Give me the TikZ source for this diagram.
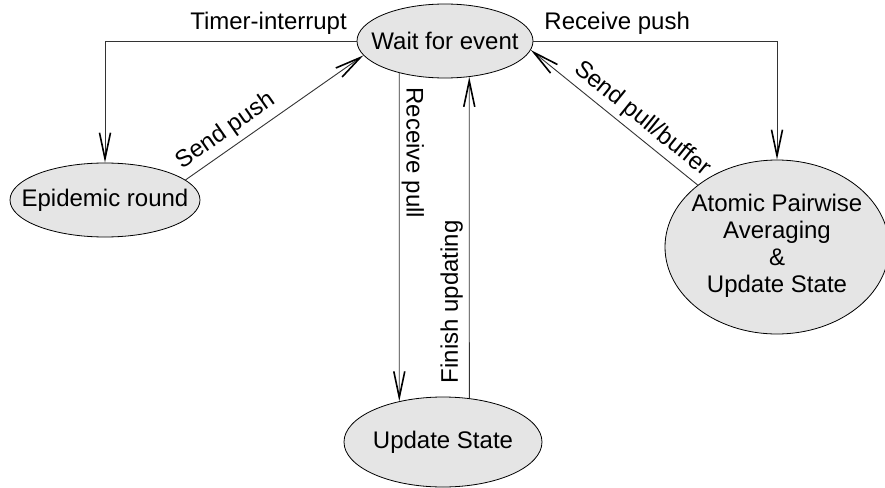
\documentclass[tikz,border=0pt]{standalone}
\usepackage{fontspec}
\setmainfont{Liberation Sans}
\usetikzlibrary{arrows.meta,shapes.geometric}
\begin{document}
\begin{tikzpicture}[x=1pt, y=-1pt,
  state/.style={ellipse, draw=black, line width=0.8pt, fill=black!10,
    inner sep=0pt, font=\fontsize{24}{27}\selectfont},
  conn/.style={draw=black!80, line width=0.9pt,
    -{Straight Barb[length=26pt,width=11pt,line width=1.6pt,color=black]}},
  lbl/.style={font=\fontsize{24}{27}\selectfont, inner sep=0pt, text=black}]
\useasboundingbox (0,0) rectangle (885,487);

% states
\node[state, minimum width=176pt, minimum height=74pt] (wait) at (445,41)
  {\makebox[0pt]{Wait for event}};
\node[state, minimum width=190pt, minimum height=74pt] (epi) at (105,200)
  {\makebox[0pt]{Epidemic round}};
\node[state, minimum width=198pt, minimum height=90pt] (upd) at (443,442)
  {\makebox[0pt]{Update State}};
\node[state, minimum width=224pt, minimum height=174pt] (atom) at (777,247)
  {\makebox[0pt]{\begin{tabular}{@{}c@{}}Atomic Pairwise\\Averaging\\\&\\Update State\end{tabular}}};

% transitions
\draw[conn] (wait.west) -| node[lbl, pos=0.175, anchor=south, inner ysep=6pt] {Timer-interrupt} (epi.north);
\draw[conn] (wait.east) -| node[lbl, pos=0.172, anchor=south, inner ysep=6pt] {Receive push} (atom.north);
\draw[conn] (epi.14) -- node[lbl, sloped, pos=0.28, anchor=south, inner ysep=5.4pt] {Send push} (wait.190);
\draw[conn] (atom.142) -- node[lbl, sloped, pos=0.395, anchor=south, inner ysep=4.8pt] {Send pull/buffer} (wait.-6);
\draw[conn] (wait.215) -- node[lbl, pos=0.243, rotate=-90, anchor=south, inner ysep=2pt] {Receive pull} (upd.137);
\draw[conn] (upd.59) -- node[lbl, pos=0.30, rotate=90, anchor=south, inner ysep=6pt] {Finish updating} (wait.-56);
\end{tikzpicture}
\end{document}
